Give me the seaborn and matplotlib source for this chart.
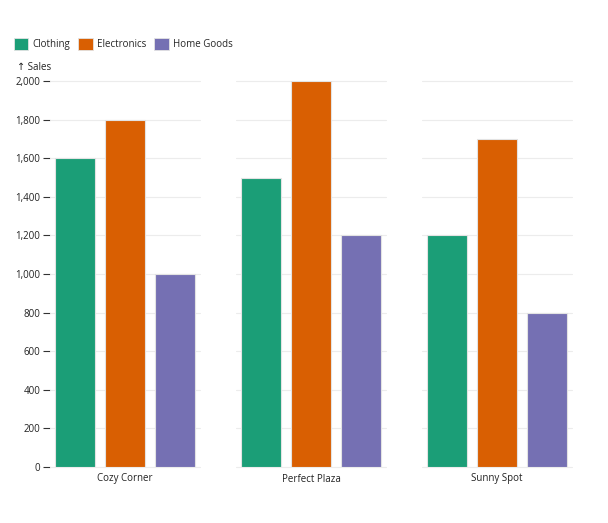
import matplotlib
matplotlib.use("Agg")
import matplotlib.pyplot as plt
from matplotlib.patches import Patch
from matplotlib.ticker import FuncFormatter
import pandas as pd
import seaborn as sns

stores = ["Cozy Corner", "Perfect Plaza", "Sunny Spot"]
categories = ["Clothing", "Electronics", "Home Goods"]
clothing = [1600, 1500, 1200]
electronics = [1800, 2000, 1700]
home_goods = [1000, 1200, 800]
y_ticks = [0, 200, 400, 600, 800, 1000, 1200, 1400, 1600, 1800, 2000]

colors = ["#1b9e77", "#d95f02", "#7570b3"]

rows = []
for i, s in enumerate(stores):
    for c, vals in zip(categories, [clothing, electronics, home_goods]):
        rows.append({"store": s, "category": c, "sales": vals[i]})
df = pd.DataFrame(rows)

sns.set_theme(style="white")
plt.rcParams["font.family"] = ["Open Sans", "DejaVu Sans"]

W, H = 608, 523
fig = plt.figure(figsize=(W / 100, H / 100), dpi=100)

y0, y1 = 467, 81
facet_left = [50, 236, 422]
facet_w = 150
fs = 7

for k, s in enumerate(stores):
    ax = fig.add_axes([facet_left[k] / W, (H - y0) / H, facet_w / W, (y0 - y1) / H])
    sub = df[df["store"] == s]
    sns.barplot(data=sub, x="category", y="sales", hue="category", order=categories,
                hue_order=categories, palette=colors, saturation=1, width=0.8, legend=False,
                edgecolor="#e3e3e3", linewidth=0.8, ax=ax, zorder=3)
    ax.set_xlim(-0.5, 2.5)
    ax.set_ylim(0, 2000)
    ax.set_yticks(y_ticks)
    for t in y_ticks:
        ax.axhline(t, color="#ececec", linewidth=0.8, zorder=1, clip_on=False)
    for sp in ax.spines.values():
        sp.set_visible(False)
    ax.set_xticks([])
    ax.set_xlabel("")
    ax.set_ylabel("")
    ax.text(0.5, -12 / (y0 - y1), s, transform=ax.transAxes, ha="center", va="center",
            fontsize=fs, color="#222222")
    if k == 0:
        ax.yaxis.set_major_formatter(FuncFormatter(lambda v, p: f"{int(v):,}"))
        ax.tick_params(axis="y", length=5, width=0.8, color="#333333", pad=2,
                       labelsize=fs, labelcolor="#222222", left=True)
    else:
        ax.set_yticklabels([])
        ax.tick_params(axis="y", length=0)

fig.text(17 / W, 1 - 68 / H, "↑ Sales", fontsize=fs, color="#222222", va="center", ha="left")

handles = [Patch(facecolor=c, edgecolor="#e3e3e3", linewidth=0.6) for c in colors]
fig.legend(handles, categories, loc="center left", bbox_to_anchor=(10 / W, 1 - 44 / H),
           ncol=3, frameon=False, fontsize=fs, handlelength=1.5, handleheight=1.5,
           handletextpad=0.4, columnspacing=0.85, borderaxespad=0)

fig.savefig("out.png", dpi=100)
